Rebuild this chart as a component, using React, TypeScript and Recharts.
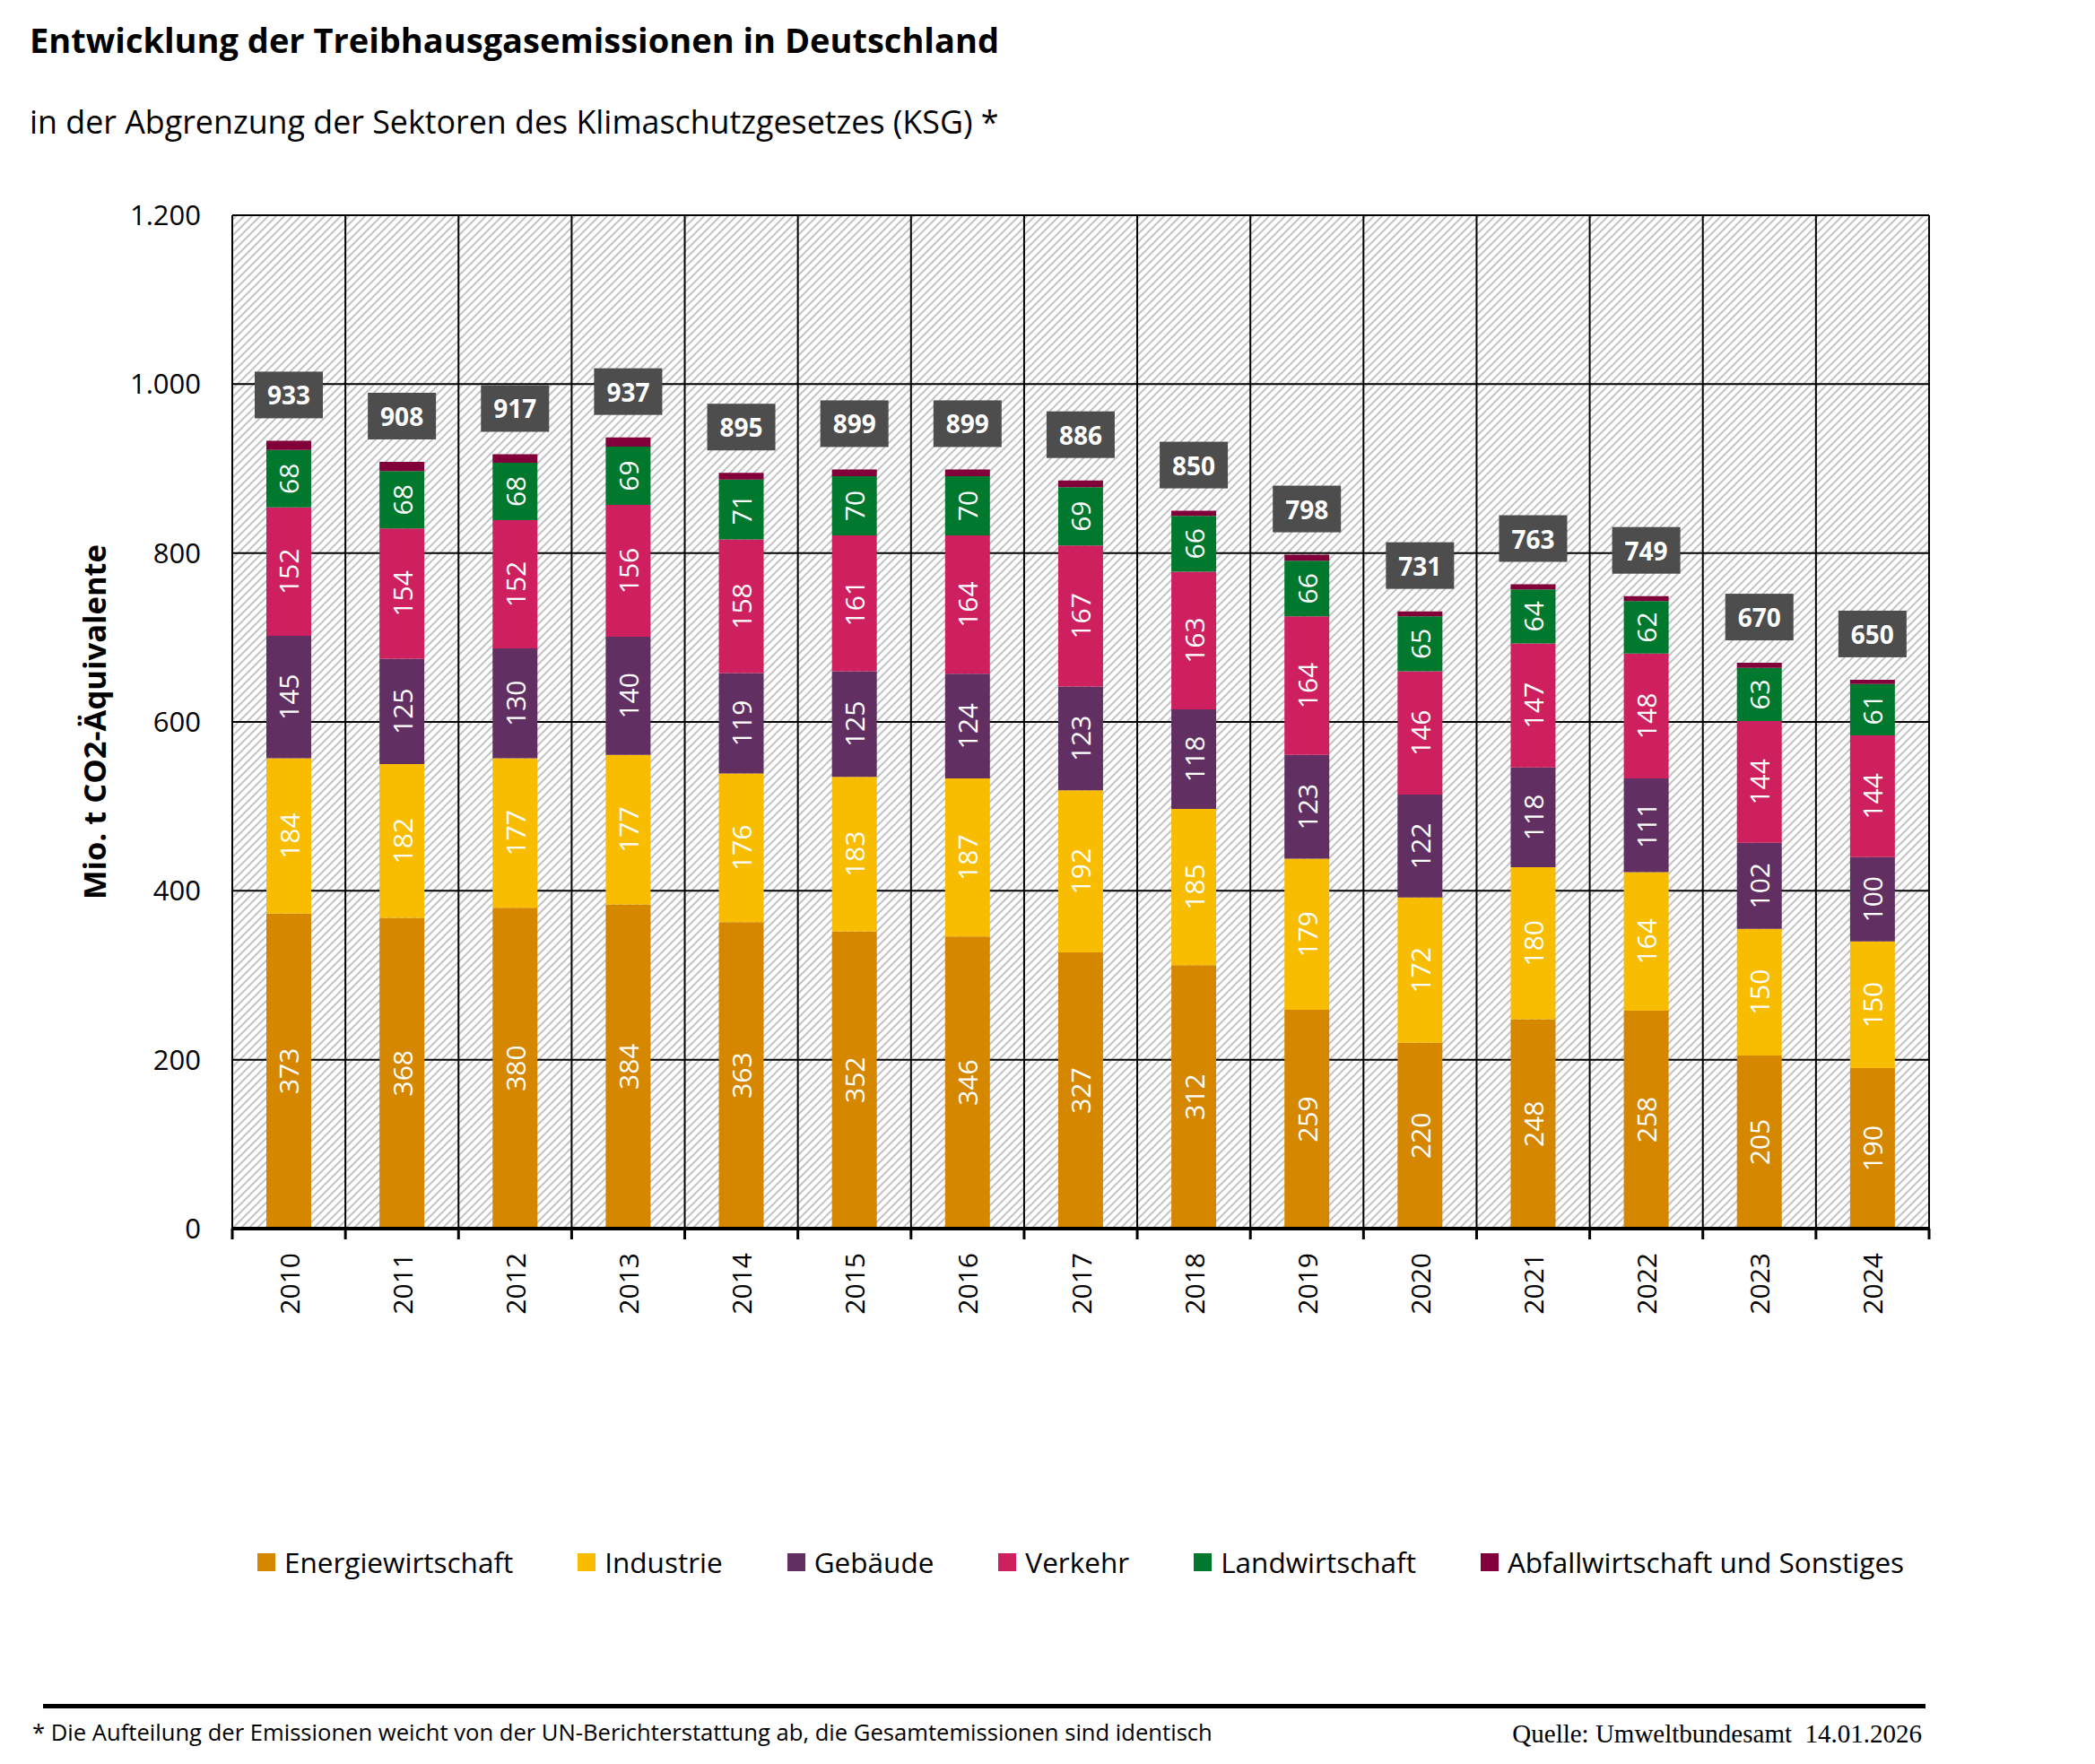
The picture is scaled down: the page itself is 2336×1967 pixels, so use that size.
import { BarChart, Bar, XAxis, YAxis, CartesianGrid, LabelList, Label } from 'recharts';

const years = ['2010', '2011', '2012', '2013', '2014', '2015', '2016', '2017', '2018', '2019', '2020', '2021', '2022', '2023', '2024'];
const energie = [373, 368, 380, 384, 363, 352, 346, 327, 312, 259, 220, 248, 258, 205, 190];
const industrie = [184, 182, 177, 177, 176, 183, 187, 192, 185, 179, 172, 180, 164, 150, 150];
const gebaeude = [145, 125, 130, 140, 119, 125, 124, 123, 118, 123, 122, 118, 111, 102, 100];
const verkehr = [152, 154, 152, 156, 158, 161, 164, 167, 163, 164, 146, 147, 148, 144, 144];
const landwirtschaft = [68, 68, 68, 69, 71, 70, 70, 69, 66, 66, 65, 64, 62, 63, 61];
const abfall = [11, 11, 10, 11, 8, 8, 8, 8, 6, 7, 6, 6, 6, 6, 5];
const gesamt = [933, 908, 917, 937, 895, 899, 899, 886, 850, 798, 731, 763, 749, 670, 650];
const yTicks = [0, 200, 400, 600, 800, 1000, 1200];

const series = [
  { key: 'energie', name: 'Energiewirtschaft', color: '#D58700', values: energie, showLabel: true },
  { key: 'industrie', name: 'Industrie', color: '#F8BC00', values: industrie, showLabel: true },
  { key: 'gebaeude', name: 'Gebäude', color: '#622F62', values: gebaeude, showLabel: true },
  { key: 'verkehr', name: 'Verkehr', color: '#CE1F5E', values: verkehr, showLabel: true },
  { key: 'landwirtschaft', name: 'Landwirtschaft', color: '#00782D', values: landwirtschaft, showLabel: true },
  { key: 'abfall', name: 'Abfallwirtschaft und Sonstiges', color: '#82003A', values: abfall, showLabel: false },
];

const data = years.map((year, i) => {
  const row: Record<string, string | number> = { year, total: gesamt[i] };
  series.forEach((s) => {
    row[s.key] = s.values[i];
  });
  return row;
});

const FONT = '"Open Sans", "Noto Sans", sans-serif';

const formatThousands = (v: number) =>
  v >= 1000 ? `${Math.floor(v / 1000)}.${String(v % 1000).padStart(3, '0')}` : String(v);

function YearTick(props: any) {
  const { x, y, payload, index } = props;
  const half = payload.offset ?? 0;
  const ty = y + 27;
  return (
    <g>
      <line x1={x - half} x2={x - half} y1={y} y2={y + 12} stroke="#000" strokeWidth={3} />
      {index === years.length - 1 && (
        <line x1={x + half} x2={x + half} y1={y} y2={y + 12} stroke="#000" strokeWidth={3} />
      )}
      <text
        x={x}
        y={ty}
        transform={`rotate(-90 ${x} ${ty})`}
        textAnchor="end"
        dominantBaseline="central"
        fontSize={30}
        fontFamily={FONT}
        fill="#000"
      >
        {payload.value}
      </text>
    </g>
  );
}

const segmentLabel = (props: any) => {
  const { x, y, width, height, value } = props;
  const cx = Number(x) + Number(width) / 2;
  const cy = Number(y) + Number(height) / 2;
  return (
    <text
      x={cx}
      y={cy}
      transform={`rotate(-90 ${cx} ${cy})`}
      textAnchor="middle"
      dominantBaseline="central"
      fill="#fff"
      fontSize={30}
      fontFamily={FONT}
    >
      {value}
    </text>
  );
};

const totalLabel = (props: any) => {
  const { x, y, width, value } = props;
  const cx = Number(x) + Number(width) / 2;
  const cy = Number(y) - 51;
  return (
    <g>
      <rect x={cx - 38} y={cy - 26} width={76} height={52} fill="#4d4d4d" />
      <text
        x={cx}
        y={cy}
        textAnchor="middle"
        dominantBaseline="central"
        fill="#fff"
        fontSize={28}
        fontWeight="bold"
        fontFamily={FONT}
      >
        {value}
      </text>
    </g>
  );
};

const yTitle = (props: any) => {
  const { viewBox } = props;
  const cx = viewBox.x + 105;
  const cy = viewBox.y + viewBox.height / 2;
  return (
    <text
      x={cx}
      y={cy}
      transform={`rotate(-90 ${cx} ${cy})`}
      textAnchor="middle"
      dominantBaseline="central"
      fontSize={34}
      fontWeight="bold"
      fontFamily={FONT}
      textLength={396}
      lengthAdjust="spacingAndGlyphs"
      fill="#000"
    >
      Mio. t CO2-Äquivalente
    </text>
  );
};

export default function App() {
  return (
    <div style={{ position: 'absolute', left: 0, top: 0, width: 2336, height: 1967, background: '#fff', fontFamily: FONT }}>
      <div style={{ position: 'absolute', left: 33, top: 25, fontSize: 38, fontWeight: 'bold', lineHeight: 1, whiteSpace: 'nowrap' }}>
        Entwicklung der Treibhausgasemissionen in Deutschland
      </div>
      <div style={{ position: 'absolute', left: 33, top: 118, fontSize: 35.8, lineHeight: 1, whiteSpace: 'nowrap' }}>
        in der Abgrenzung der Sektoren des Klimaschutzgesetzes (KSG) *
      </div>

      <div style={{ position: 'absolute', left: 0, top: 0 }}>
        <BarChart width={2336} height={1500} data={data} margin={{ top: 240, right: 185, bottom: 0, left: 0 }}>
          <defs>
            <pattern id="hatch" patternUnits="userSpaceOnUse" width={9} height={9}>
              <rect width={9} height={9} fill="#fff" />
              <path d="M-2,2 L2,-2 M0,9 L9,0 M7,11 L11,7" stroke="#c4c4c4" strokeWidth={2} />
            </pattern>
          </defs>
          <CartesianGrid
            stroke="#000"
            strokeWidth={2}
            fill="url(#hatch)"
            fillOpacity={1}
            verticalCoordinatesGenerator={({ offset }: any) =>
              years.map((_, i) => offset.left + (i * offset.width) / years.length).concat(offset.left + offset.width)
            }
          />
          <XAxis
            dataKey="year"
            height={130}
            axisLine={{ stroke: '#000', strokeWidth: 4 }}
            tickLine={false}
            tickSize={0}
            tickMargin={0}
            interval={0}
            tick={<YearTick />}
          />
          <YAxis
            domain={[0, 1200]}
            ticks={yTicks}
            width={259}
            axisLine={false}
            tickLine={false}
            tickSize={0}
            tickMargin={35}
            tickFormatter={formatThousands}
            tick={{ fill: '#000', fontSize: 31, fontFamily: FONT }}
          >
            <Label content={yTitle} />
          </YAxis>
          {series.map((s, idx) => (
            <Bar key={s.key} dataKey={s.key} name={s.name} stackId="a" fill={s.color} barSize={50} isAnimationActive={false}>
              {s.showLabel && <LabelList dataKey={s.key} content={segmentLabel} />}
              {idx === series.length - 1 && <LabelList dataKey="total" content={totalLabel} />}
            </Bar>
          ))}
        </BarChart>
      </div>

      <div
        style={{
          position: 'absolute',
          left: 259,
          width: 1892,
          top: 1720,
          display: 'flex',
          justifyContent: 'center',
          alignItems: 'center',
          gap: 72,
          fontSize: 31.5,
          whiteSpace: 'nowrap',
        }}
      >
        {series.map((s) => (
          <div key={s.key} style={{ display: 'flex', alignItems: 'center', gap: 10 }}>
            <span style={{ display: 'inline-block', width: 20, height: 20, background: s.color }} />
            <span>{s.name}</span>
          </div>
        ))}
      </div>

      <div style={{ position: 'absolute', left: 48, top: 1900, width: 2099, height: 5, background: '#000' }} />
      <div style={{ position: 'absolute', left: 36, top: 1917, fontSize: 25.6, lineHeight: 1.2, whiteSpace: 'nowrap' }}>
        * Die Aufteilung der Emissionen weicht von der UN-Berichterstattung ab, die Gesamtemissionen sind identisch
      </div>
      <div
        style={{
          position: 'absolute',
          right: 193,
          top: 1916,
          fontSize: 29,
          lineHeight: 1.2,
          fontFamily: '"Liberation Serif", serif',
          whiteSpace: 'nowrap',
        }}
      >
        Quelle: Umweltbundesamt&nbsp; 14.01.2026
      </div>
    </div>
  );
}
